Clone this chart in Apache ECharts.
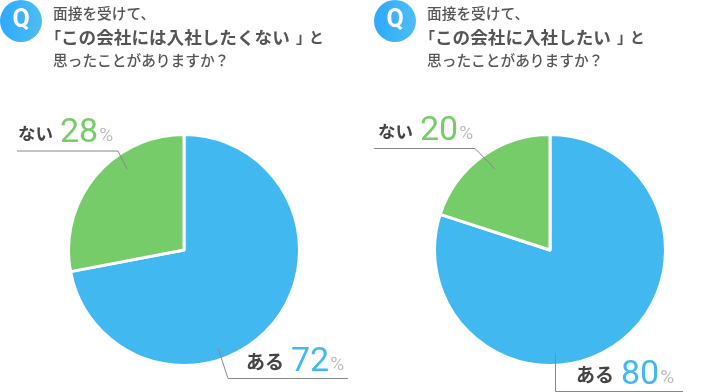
<!DOCTYPE html>
<html><head><meta charset="utf-8">
<style>html,body{margin:0;padding:0;background:#fff}#c{width:708px;height:392px}</style>
<script src="https://cdn.jsdelivr.net/npm/echarts@6/dist/echarts.min.js"></script>
</head><body><div id="c"></div>
<script>
const categories = ['ある', 'ない'];
const leftValues = [72, 28];
const rightValues = [80, 20];
const unit = '%';
const line1 = '面接を受けて、';
const leftLine2 = 'この会社には入社したくない';
const rightLine2 = 'この会社に入社したい';
const bracketOpen = '「', bracketClose = '」';
const line2End = 'と';
const line3 = '思ったことがありますか？';

const BLUE = '#42b8f0', GREEN = '#77cc6a', JP = '"Noto Sans CJK JP"';
const chart = echarts.init(document.getElementById('c'), null, {renderer: 'canvas'});

function pie(cx, values, layouts) {
  const num = color => ({fontFamily: 'Roboto', fontWeight: 400, fontSize: 34, color, padding: [0, 1, 0, 0]});
  const name = (fontSize, gap) => ({fontFamily: 'Noto Sans CJK JP', fontWeight: 700, fontSize, color: '#444', padding: [0, gap, 0, 0]});
  return {
    type: 'pie', center: [cx, 250], radius: [0, 115.5], startAngle: 90, clockwise: true,
    silent: true, animation: false, avoidLabelOverlap: false,
    itemStyle: {borderColor: '#fff', borderWidth: 3},
    color: [BLUE, GREEN],
    labelLine: {show: false},
    label: {
      show: true, position: 'outside',
      formatter: p => `{n${p.dataIndex}|${p.name}}{v${p.dataIndex}|${p.value}}{u|${unit}}`,
      rich: {
        n0: name(19, 7),
        n1: name(17.5, 7),
        v0: num(BLUE),
        v1: num(GREEN),
        u: {fontFamily: 'Roboto', fontWeight: 400, fontSize: 19, color: '#bbb', padding: [7, 0, 0, 0]}
      }
    },
    labelLayout: p => Object.assign({align: 'left', verticalAlign: 'middle', moveOverlap: false}, layouts[p.dataIndex]),
    data: categories.map((name, i) => ({name, value: values[i]}))
  };
}

function qBadge(cx) {
  return [
    {type: 'circle', shape: {cx, cy: 21, r: 21}, style: {fill: new echarts.graphic.LinearGradient(0, 0.5, 1, 0.5, [{offset: 0, color: '#2ea9ff'}, {offset: 1, color: '#4dbdf2'}])}},
    {type: 'text', style: {x: cx, y: 21, text: 'Q', fill: '#fff', font: '700 25px Roboto', align: 'center', verticalAlign: 'middle'}}
  ];
}
function title(x, l2, closeX) {
  const t = (text, tx, y, font) => ({type: 'text', style: {x: tx, y, text, fill: '#555', font, align: 'left', verticalAlign: 'middle'}});
  return [
    t(line1, x, 13, `500 14.7px ${JP}`),
    t(bracketOpen, x - 7, 37, `700 15px ${JP}`),
    t(l2, x + 8, 37, `700 17.6px ${JP}`),
    t(bracketClose, closeX, 37, `700 15px ${JP}`),
    t(line2End, closeX + 13, 37, `700 14.7px ${JP}`),
    t(line3, x, 60, `500 14.7px ${JP}`)
  ];
}
function leader(points) {
  return {type: 'polyline', z: 100, shape: {points}, style: {stroke: '#888', lineWidth: 1, fill: null}};
}

chart.setOption({
  backgroundColor: '#fff',
  series: [
    pie(184, leftValues, [{x: 246, y: 362}, {x: 18, y: 133}]),
    pie(550, rightValues, [{x: 576, y: 375}, {x: 378, y: 131}])
  ],
  graphic: {elements: [
    ...qBadge(21), ...qBadge(395),
    ...title(53, leftLine2, 296), ...title(427, rightLine2, 617),
    leader([[17, 151], [118, 151], [127, 169]]),
    leader([[374, 148.5], [475, 148.5], [495, 169]]),
    leader([[218, 348], [228, 378.5], [348, 378.5]]),
    leader([[555.5, 353], [555.5, 391.5], [683, 391.5]])
  ]}
});
</script></body></html>
